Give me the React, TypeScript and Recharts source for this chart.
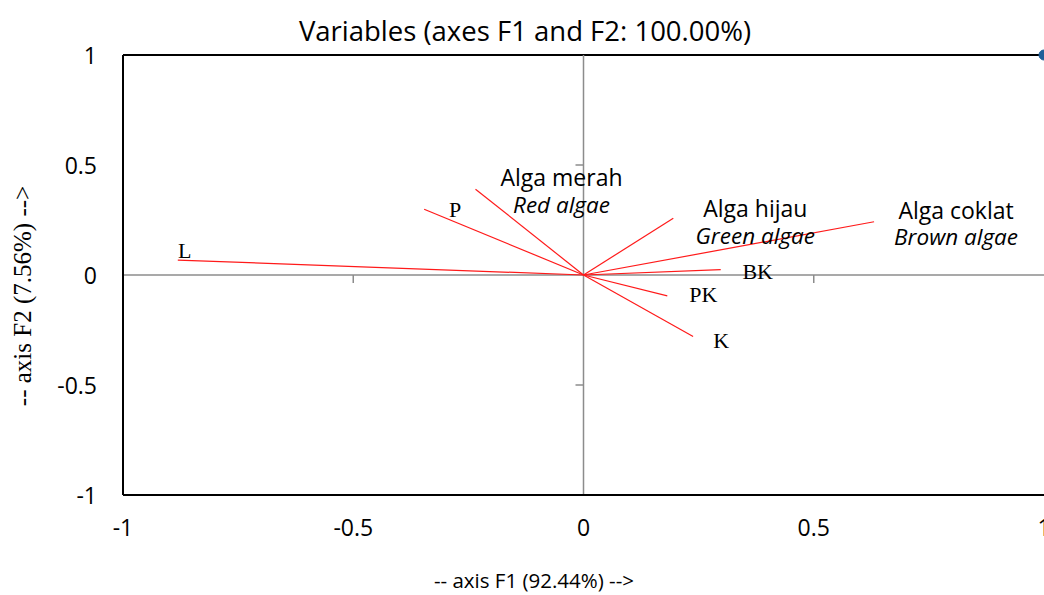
import React from 'react';
import { ScatterChart, Scatter, XAxis, YAxis, ReferenceLine, ReferenceDot } from 'recharts';

const variableNames = ['L', 'P', 'Alga merah', 'Alga hijau', 'Alga coklat', 'BK', 'PK', 'K'];
const subtitles = ['', '', 'Red algae', 'Green algae', 'Brown algae', '', '', ''];
const f1Values = [-0.881, -0.346, -0.2345, 0.195, 0.631, 0.298, 0.182, 0.238];
const f2Values = [0.068, 0.299, 0.39, 0.258, 0.242, 0.024, -0.095, -0.28];
const axisTicks = [-1, -0.5, 0, 0.5, 1];
const minorTicks = [-0.5, 0.5];

// label placement (pixels, relative to the vector end)
const labelOffsets: Record<string, [number, number]> = {
  L: [7, -10],
  P: [31, 0],
  'Alga merah': [86, -12],
  'Alga hijau': [82, -10],
  'Alga coklat': [82, -12],
  BK: [37, 2],
  PK: [36, -1],
  K: [28, 4],
};

const SANS = '"Open Sans", sans-serif';
const SERIF = '"Liberation Serif", serif';

const fmt = (v: number) => (v === 0 ? '0' : String(v));

export default function App() {
  return (
    <div style={{ position: 'fixed', left: 0, top: 0, width: 1044, height: 595, overflow: 'hidden', background: '#fff' }}>
      <ScatterChart width={1100} height={595} margin={{ top: 55, right: 56, left: 63, bottom: 60 }}>
        <XAxis
          type="number"
          dataKey="x"
          domain={[-1, 1]}
          ticks={axisTicks}
          allowDataOverflow
          height={40}
          tickLine={false}
          axisLine={{ stroke: '#000', strokeWidth: 2 }}
          tick={(p: any) => (
            <text x={p.x} y={527} textAnchor="middle" dominantBaseline="central" fontFamily={SANS} fontSize={23} fill="#000">
              {fmt(p.payload.value)}
            </text>
          )}
        />
        <YAxis
          type="number"
          dataKey="y"
          domain={[-1, 1]}
          ticks={axisTicks}
          allowDataOverflow
          width={60}
          tickLine={false}
          axisLine={{ stroke: '#000', strokeWidth: 2 }}
          tick={(p: any) => (
            <text x={97} y={p.y} textAnchor="end" dominantBaseline="central" fontFamily={SANS} fontSize={23} fill="#000">
              {fmt(p.payload.value)}
            </text>
          )}
        />
        <ReferenceLine y={1} stroke="#000" strokeWidth={2} />
        <ReferenceLine x={0} stroke="#8c8c8c" strokeWidth={1.5} />
        <ReferenceLine y={0} stroke="#8c8c8c" strokeWidth={1.5} />
        {minorTicks.map((v) => (
          <ReferenceDot
            key={'tx' + v}
            x={v}
            y={0}
            r={0}
            shape={(p: any) => <line x1={p.cx} x2={p.cx} y1={p.cy} y2={p.cy + 8} stroke="#8c8c8c" strokeWidth={1.5} />}
          />
        ))}
        {minorTicks.map((v) => (
          <ReferenceDot
            key={'ty' + v}
            x={0}
            y={v}
            r={0}
            shape={(p: any) => <line x1={p.cx - 8} x2={p.cx} y1={p.cy} y2={p.cy} stroke="#8c8c8c" strokeWidth={1.5} />}
          />
        ))}
        {variableNames.map((name, i) => (
          <Scatter
            key={name}
            name={name}
            data={[
              { x: 0, y: 0 },
              { x: f1Values[i], y: f2Values[i] },
            ]}
            line={{ stroke: '#ff1a1a', strokeWidth: 1.2 }}
            shape={() => null}
            isAnimationActive={false}
          />
        ))}
        {variableNames.map((name, i) => {
          const [dx, dy] = labelOffsets[name];
          const sub = subtitles[i];
          return (
            <ReferenceDot
              key={'lbl' + name}
              x={f1Values[i]}
              y={f2Values[i]}
              r={0}
              shape={(p: any) =>
                sub ? (
                  <g>
                    <text x={p.cx + dx} y={p.cy + dy} textAnchor="middle" dominantBaseline="central" fontFamily={SANS} fontSize={23} fill="#000">
                      {name}
                    </text>
                    <text x={p.cx + dx} y={p.cy + dy + 27} textAnchor="middle" dominantBaseline="central" fontFamily={SANS} fontStyle="italic" fontSize={22.5} fill="#000">
                      {sub}
                    </text>
                  </g>
                ) : (
                  <text x={p.cx + dx} y={p.cy + dy} textAnchor="middle" dominantBaseline="central" fontFamily={SERIF} fontSize={22} fill="#000">
                    {name}
                  </text>
                )
              }
            />
          );
        })}
        <ReferenceDot x={1} y={1} r={5} fill="#1f5f99" stroke="#1f5f99" />
        <text x={525} y={30} textAnchor="middle" dominantBaseline="central" fontFamily={SANS} fontSize={27.5} fill="#000">
          Variables (axes F1 and F2: 100.00%)
        </text>
        <text x={534} y={580} textAnchor="middle" dominantBaseline="central" fontFamily={SANS} fontSize={20.5} fill="#000">
          {'-- axis F1 (92.44%) -->'}
        </text>
        <text
          x={22}
          y={296}
          textAnchor="middle"
          dominantBaseline="central"
          fontFamily={SERIF}
          fontSize={25}
          fill="#000"
          transform="rotate(-90 22 296)"
        >
          {'-- axis F2 (7.56%) -->'}
        </text>
      </ScatterChart>
    </div>
  );
}
